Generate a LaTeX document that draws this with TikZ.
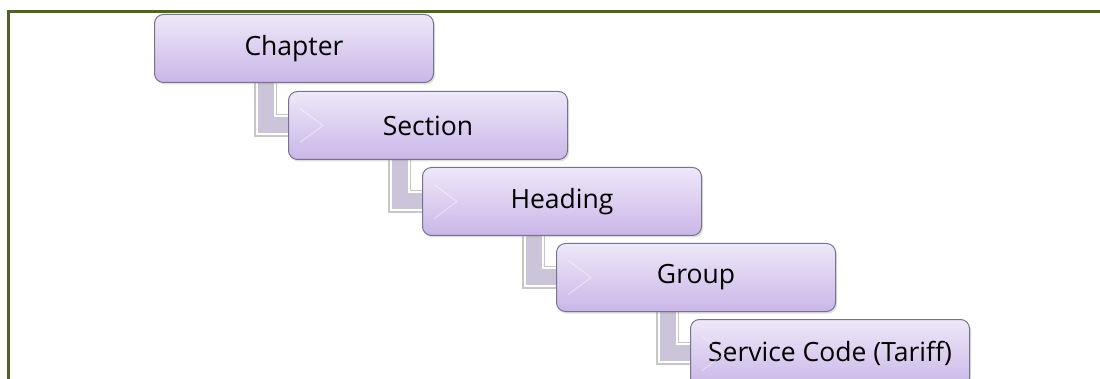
\documentclass[tikz,border=0pt]{standalone}
\usepackage{fontspec}
\setmainfont{Open Sans}
\usetikzlibrary{shadows}

\definecolor{framegreen}{HTML}{4F6228}
\definecolor{boxtop}{HTML}{EEE8F8}
\definecolor{boxbottom}{HTML}{CAB6E8}
\definecolor{boxedge}{HTML}{77738A}
\definecolor{bandfill}{HTML}{CCC4D8}

\tikzset{
  levelbox/.style={draw=boxedge, line width=1pt, rounded corners=9pt,
    top color=boxtop, bottom color=boxbottom,
    minimum width=279pt, minimum height=68pt, inner sep=0pt,
    anchor=north west, font=\fontsize{26.5}{31}\selectfont,
    drop shadow={shadow xshift=1.5pt, shadow yshift=-2pt, opacity=0.25}},
  bandedge/.style={line width=23pt, draw=black!22, line join=miter},
  bandwhite/.style={line width=20pt, draw=white, line join=miter},
  bandcore/.style={line width=16pt, draw=bandfill, line join=miter},
  chevron/.style={draw=white, opacity=0.5, line width=0.8pt},
  frameline/.style={draw=framegreen, line width=3pt}
}

\begin{document}
\begin{tikzpicture}[x=1pt, y=-1pt]
  \path[clip] (0,0) rectangle (1100,379);

  % box positions (top-left corners)
  \coordinate (p1) at (154,14);
  \coordinate (p2) at (288,91);
  \coordinate (p3) at (422,167);
  \coordinate (p4) at (556,243);
  \coordinate (p5) at (690,319);

  % invisible placeholders so connectors can use anchors before the boxes are drawn
  \foreach \i in {1,...,5} {
    \node[minimum width=279pt, minimum height=68pt, inner sep=0pt, anchor=north west] (b\i) at (p\i) {};
  }

  % elbow connectors
  \foreach \a/\b in {1/2, 2/3, 3/4, 4/5} {
    \draw[bandedge] ([xshift=111.5pt, yshift=4pt]b\a.south west) |- ([xshift=20pt]b\b.west);
    \draw[bandwhite] ([xshift=111.5pt, yshift=4pt]b\a.south west) |- ([xshift=20pt]b\b.west);
    \draw[bandcore] ([xshift=111.5pt, yshift=4pt]b\a.south west) |- ([xshift=20pt]b\b.west);
  }

  % level boxes
  \node[levelbox] (chapter) at (p1) {Chapter};
  \node[levelbox] (section) at (p2) {Section};
  \node[levelbox] (heading) at (p3) {Heading};
  \node[levelbox] (group) at (p4) {Group};
  \node[levelbox] (service) at (p5) {Service Code (Tariff)};

  % faint arrow heads inside each child box
  \foreach \n in {section, heading, group, service} {
    \draw[chevron] ([xshift=12pt, yshift=17pt]\n.west) -- ([xshift=35pt]\n.west) -- ([xshift=12pt, yshift=-17pt]\n.west);
  }

  % frame
  \draw[frameline] (8,381) -- (8,12) -- (1102,12);
\end{tikzpicture}
\end{document}
